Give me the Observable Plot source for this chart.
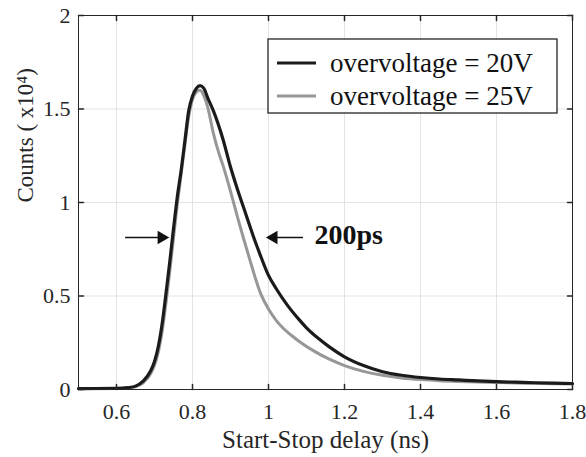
<!DOCTYPE html>
<html><head><meta charset="utf-8">
<script src="https://cdn.jsdelivr.net/npm/d3@7"></script>
<script src="https://cdn.jsdelivr.net/npm/@observablehq/plot@0.6"></script>
<style>
html,body{margin:0;padding:0;background:#fff;}
#chart{width:586px;height:457px;}
</style></head><body><div id="chart"></div>
<script>
// ---- data ----
const x20 = [0.50,0.60,0.63,0.65,0.67,0.69,0.70,0.71,0.72,0.73,0.74,0.75,0.76,0.77,0.78,0.79,0.80,0.81,0.82,0.83,0.84,0.855,0.88,0.90,0.92,0.94,0.96,0.98,1.00,1.02,1.05,1.08,1.10,1.13,1.16,1.20,1.25,1.30,1.35,1.40,1.45,1.50,1.55,1.60,1.65,1.70,1.75,1.80];
const y20 = [0.005,0.006,0.010,0.018,0.045,0.10,0.15,0.23,0.35,0.51,0.68,0.86,1.03,1.17,1.33,1.49,1.57,1.61,1.625,1.61,1.56,1.49,1.34,1.19,1.06,0.94,0.82,0.71,0.61,0.54,0.45,0.375,0.33,0.275,0.228,0.175,0.128,0.095,0.076,0.064,0.056,0.051,0.046,0.042,0.039,0.036,0.034,0.032];
const x25 = [0.50,0.60,0.63,0.65,0.67,0.69,0.70,0.71,0.72,0.73,0.74,0.75,0.76,0.77,0.78,0.79,0.80,0.81,0.82,0.83,0.84,0.855,0.87,0.88,0.90,0.92,0.934,0.95,0.98,1.00,1.02,1.04,1.06,1.08,1.12,1.16,1.20,1.25,1.30,1.35,1.40,1.45,1.50,1.55,1.60,1.65,1.70,1.75,1.80];
const y25 = [0.004,0.005,0.008,0.014,0.035,0.085,0.13,0.20,0.31,0.46,0.63,0.81,0.99,1.15,1.31,1.46,1.55,1.59,1.60,1.57,1.51,1.37,1.26,1.20,1.06,0.91,0.81,0.70,0.51,0.43,0.37,0.325,0.29,0.258,0.205,0.162,0.128,0.097,0.076,0.062,0.053,0.047,0.043,0.040,0.037,0.035,0.033,0.031,0.030];
const seriesNames = ["overvoltage = 20V", "overvoltage = 25V"];
const seriesColors = ["#1b1b1b", "#979797"];
const xTicks = [0.6, 0.8, 1.0, 1.2, 1.4, 1.6, 1.8];
const yTicks = [0, 0.5, 1, 1.5, 2];
const xDomain = [0.5, 1.8];
const yDomain = [0, 2];
const xLabel = "Start-Stop delay (ns)";
const yLabel = "Counts ( x10⁴)";
const arrowY = [0.813, 0.813];
const arrowStart = [0.624, 1.092];
const arrowEnd = [0.729, 1.003];
const arrowDir = [1, -1];
const noteText = ["200ps"];
const noteX = [1.121];
const noteY = [0.813];

// ---- build tables ----
const s20 = x20.map((x, i) => ({x, y: y20[i]}));
const s25 = x25.map((x, i) => ({x, y: y25[i]}));
const arrows = arrowStart.map((s, i) => ({x1: s, x2: arrowEnd[i], y: arrowY[i], dir: arrowDir[i]}));
const notes = noteText.map((t, i) => ({t, x: noteX[i], y: noteY[i]}));

const FONT = "'Liberation Serif', 'Times New Roman', serif";
const INK = "#262626";
const tickShape = {draw(ctx, l) { ctx.moveTo(0, 0); ctx.lineTo(0, -l); }};

const chart = Plot.plot({
  width: 586, height: 457,
  marginLeft: 78, marginRight: 14, marginTop: 15, marginBottom: 68,
  style: {fontFamily: FONT, background: "#fff", color: INK, overflow: "visible"},
  x: {domain: xDomain, axis: null},
  y: {domain: yDomain, axis: null},
  marks: [
    Plot.ruleX(xTicks, {x: d => d, stroke: "#e3e3e3", strokeWidth: 1}),
    Plot.ruleY(yTicks, {y: d => d, stroke: "#e3e3e3", strokeWidth: 1}),
    Plot.line(s25, {x: "x", y: "y", stroke: seriesColors[1], strokeWidth: 3, curve: "monotone-x"}),
    Plot.line(s20, {x: "x", y: "y", stroke: seriesColors[0], strokeWidth: 3.2, curve: "monotone-x"}),
    Plot.frame({stroke: INK, strokeWidth: 1}),
    // inward ticks
    Plot.vector(xTicks, {x: d => d, frameAnchor: "bottom", length: 5, rotate: 0, anchor: "start", shape: tickShape, stroke: INK}),
    Plot.vector(xTicks, {x: d => d, frameAnchor: "top", length: 5, rotate: 180, anchor: "start", shape: tickShape, stroke: INK}),
    Plot.vector(yTicks, {y: d => d, frameAnchor: "left", length: 5, rotate: 90, anchor: "start", shape: tickShape, stroke: INK}),
    Plot.vector(yTicks, {y: d => d, frameAnchor: "right", length: 5, rotate: -90, anchor: "start", shape: tickShape, stroke: INK}),
    // tick labels
    Plot.text(xTicks, {x: d => d, frameAnchor: "bottom", dy: 22, text: d => String(d), fontSize: 22, fill: INK, lineAnchor: "middle"}),
    Plot.text(yTicks, {y: d => d, frameAnchor: "left", dx: -8, textAnchor: "end", text: d => String(d), fontSize: 22, fill: INK, lineAnchor: "middle"}),
    // axis labels
    Plot.text([xLabel], {frameAnchor: "bottom", dy: 50, text: d => d, fontSize: 25, fill: INK, lineAnchor: "middle"}),
    Plot.text([yLabel], {frameAnchor: "left", dx: -53, rotate: -90, text: d => d, fontSize: 23, fill: INK, lineAnchor: "middle"}),
    // annotation arrows
    Plot.ruleY(arrows, {x1: "x1", x2: "x2", y: "y", stroke: "#111", strokeWidth: 1.5}),
    Plot.dot(arrows.filter(d => d.dir > 0), {x: "x2", y: "y", symbol: "triangle", r: 5, fill: "#111", stroke: "none", rotate: 90, dx: -4}),
    Plot.dot(arrows.filter(d => d.dir < 0), {x: "x2", y: "y", symbol: "triangle", r: 5, fill: "#111", stroke: "none", rotate: -90, dx: 4}),
    Plot.text(notes, {x: "x", y: "y", text: "t", textAnchor: "start", fontSize: 28, fontWeight: "bold", fill: "#111", lineAnchor: "middle", dy: -2})
  ]
});
document.getElementById("chart").appendChild(chart);

// ---- legend box inside plot area ----
const svg = d3.select(chart);
const lg = svg.append("g").attr("font-family", FONT).attr("text-anchor", "start");
lg.append("rect").attr("x", 268).attr("y", 39).attr("width", 289).attr("height", 74)
  .attr("fill", "#fff").attr("stroke", INK).attr("stroke-width", 1.3);
seriesNames.forEach((name, i) => {
  const yy = 63 + i * 33;
  lg.append("line").attr("x1", 277).attr("x2", 316).attr("y1", yy).attr("y2", yy)
    .attr("stroke", seriesColors[i]).attr("stroke-width", 3);
  lg.append("text").attr("x", 330).attr("y", yy).attr("dy", "0.35em")
    .attr("font-size", 27).attr("fill", "#111").attr("text-anchor", "start").text(name);
});
</script></body></html>
